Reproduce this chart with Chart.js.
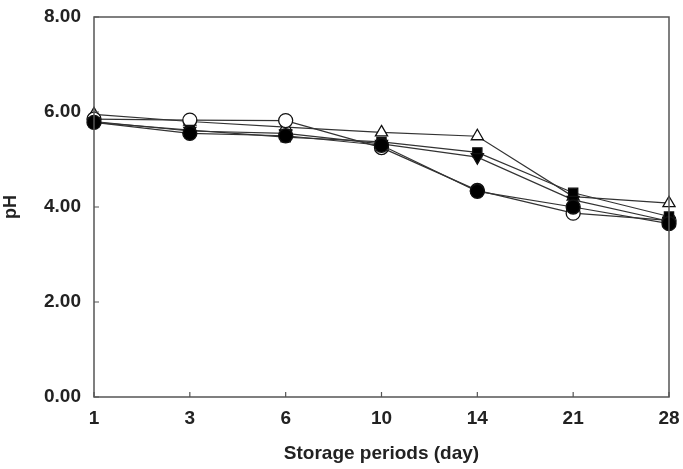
<!DOCTYPE html>
<html>
<head>
<meta charset="utf-8">
<script src="https://cdn.jsdelivr.net/npm/chart.js@4"></script>
<style>
  html, body { margin: 0; padding: 0; background: #fff; }
  #wrap { width: 683px; height: 469px; position: relative; }
</style>
</head>
<body>
<div id="wrap"><canvas id="phChart"></canvas></div>
<script>
// storage days (categories) and pH readings per treatment
const days = ["1", "3", "6", "10", "14", "21", "28"];
const yTicks = [0, 2, 4, 6, 8];

const filledCircle = [5.78, 5.55, 5.50, 5.30, 4.33, 4.00, 3.65];
const filledDown   = [5.80, 5.60, 5.55, 5.33, 5.05, 4.15, 3.70];
const filledSquare = [5.78, 5.62, 5.47, 5.37, 5.15, 4.30, 3.80];
const openCircle   = [5.85, 5.83, 5.82, 5.25, 4.35, 3.87, 3.72];
const openUp       = [5.95, 5.80, 5.68, 5.57, 5.49, 4.22, 4.08];

const LINE = "#333";
const FONT = "'Liberation Sans', Arial, sans-serif";

function series(label, data, style, filled, rotation) {
    return {
        label,
        data,
        borderColor: LINE,
        borderWidth: 1.2,
        pointStyle: style,
        pointRotation: rotation || 0,
        pointRadius: style === "rect" ? 6.5 : 7,
        pointBorderWidth: 1.3,
        pointBorderColor: "#111",
        pointBackgroundColor: filled ? "#000" : "#fff",
        tension: 0,
        fill: false
    };
}

// small inward ticks + box frame, drawn from the chart's own scales
const frameTicks = {
    id: "frameTicks",
    afterDatasetsDraw(chart) {
        const { ctx, chartArea: a, scales: { x, y } } = chart;
        ctx.save();
        ctx.strokeStyle = "#555";
        ctx.lineWidth = 1.5;
        ctx.strokeRect(a.left, a.top, a.right - a.left, a.bottom - a.top);
        ctx.lineWidth = 1.2;
        ctx.beginPath();
        x.ticks.forEach((t, i) => {
            const px = x.getPixelForTick(i);
            ctx.moveTo(px, a.bottom);
            ctx.lineTo(px, a.bottom - 5);
        });
        yTicks.forEach(v => {
            const py = y.getPixelForValue(v);
            ctx.moveTo(a.left, py);
            ctx.lineTo(a.left + 5, py);
        });
        ctx.stroke();
        ctx.restore();
    }
};

new Chart(document.getElementById("phChart"), {
    type: "line",
    data: {
        labels: days,
        datasets: [
            series("filled circle", filledCircle, "circle", true),
            series("filled triangle", filledDown, "triangle", true, 180),
            series("filled square", filledSquare, "rect", true),
            series("open circle", openCircle, "circle", false),
            series("open triangle", openUp, "triangle", false)
        ]
    },
    options: {
        responsive: true,
        maintainAspectRatio: false,
        animation: false,
        layout: { padding: { left: 0, right: 14, top: 17, bottom: 0 } },
        plugins: { legend: { display: false }, tooltip: { enabled: false } },
        scales: {
            x: {
                offset: false,
                border: { display: false },
                grid: { display: false, drawTicks: false },
                ticks: {
                    padding: 10,
                    color: "#222",
                    font: { family: FONT, size: 19, weight: "bold" },
                    maxRotation: 0
                },
                title: {
                    display: true,
                    text: "Storage periods (day)",
                    color: "#222",
                    padding: { top: 12 },
                    font: { family: FONT, size: 19, weight: "bold" }
                },
                afterFit(scale) {
                    scale.height = 72;
                    scale.paddingLeft = 0;
                    scale.paddingRight = 0;
                }
            },
            y: {
                min: 0,
                max: 8,
                border: { display: false },
                grid: { display: false, drawTicks: false },
                afterBuildTicks(scale) { scale.ticks = yTicks.map(v => ({ value: v })); },
                ticks: {
                    padding: 13,
                    color: "#222",
                    font: { family: FONT, size: 19, weight: "bold" },
                    callback: v => v.toFixed(2)
                },
                title: {
                    display: true,
                    text: "pH",
                    color: "#222",
                    padding: 0,
                    font: { family: FONT, size: 18, weight: "bold" }
                },
                afterFit(scale) {
                    scale.width = 94;
                    scale.paddingTop = 0;
                    scale.paddingBottom = 0;
                }
            }
        }
    },
    plugins: [frameTicks]
});
</script>
</body>
</html>
